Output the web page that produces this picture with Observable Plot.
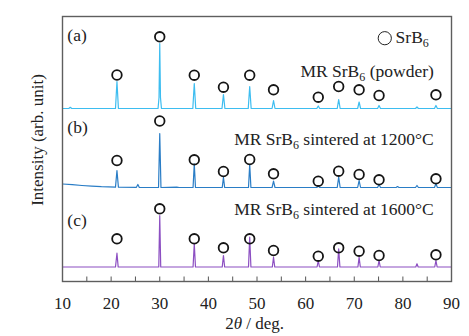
<!DOCTYPE html>
<html>
<head>
<meta charset="utf-8">
<script src="https://cdn.jsdelivr.net/npm/d3@7"></script>
<script src="https://cdn.jsdelivr.net/npm/@observablehq/plot@0.6"></script>
<style>
  html, body { margin: 0; padding: 0; background: #fff; }
  #wrap { position: relative; width: 469px; height: 336px; overflow: hidden; }
  #outer { position: absolute; left: 12px; top: 10px; width: 480px; height: 340px;
           border-top: 1px solid #d6d6d6; border-left: 1px solid #d6d6d6; }
  #chart { position: absolute; left: 0; top: 0; }
</style>
</head>
<body>
<div id="wrap"><div id="outer"></div><div id="chart"></div></div>
<script>
// ---- data (2θ in degrees, intensity in arbitrary units, relative to each pattern's baseline)
const patternA = [
  [10,0],[11.3,0],[11.6,12],[11.9,0],
  [20.9,0],[21.2,270],[21.5,0],
  [29.65,0],[29.85,110],[30.0,650],[30.15,110],[30.35,0],
  [36.8,0],[37.1,250],[37.4,0],
  [42.8,0],[43.1,140],[43.4,0],
  [48.2,0],[48.5,220],[48.8,0],
  [53.1,0],[53.4,80],[53.7,0],
  [62.3,0],[62.6,25],[62.9,0],
  [66.5,0],[66.8,90],[67.1,0],
  [70.7,0],[71.0,65],[71.3,0],
  [74.8,0],[75.1,30],[75.4,0],
  [82.6,0],[82.9,15],[83.2,0],
  [86.5,0],[86.8,30],[87.1,0],
  [90,0]
];
const patternB = [
  [10,35],[12,28],[14,20],[16,14],[18,8],[20.9,4],[21.2,170],[21.5,3],
  [25.2,2],[25.5,30],[25.8,1],
  [29.75,0],[30.0,540],[30.25,0],
  [33.5,3],[34,0],
  [36.85,0],[37.1,237],[37.35,0],
  [42.85,0],[43.1,103],[43.35,0],
  [48.25,0],[48.5,230],[48.75,0],
  [53.1,0],[53.4,63],[53.7,0],
  [62.3,0],[62.6,15],[62.9,0],
  [66.5,0],[66.8,103],[67.1,0],
  [70.7,0],[71.0,70],[71.3,0],
  [74.8,0],[75.1,30],[75.4,0],
  [78.6,0],[78.9,10],[79.2,0],
  [82.6,0],[82.9,20],[83.2,0],
  [86.5,0],[86.8,37],[87.1,0],
  [90,0]
];
const patternC = [
  [10,0],[20.9,0],[21.2,138],[21.45,0],
  [29.8,0],[30.0,515],[30.2,0],
  [36.85,0],[37.1,232],[37.35,0],
  [42.85,0],[43.1,115],[43.35,0],
  [48.25,0],[48.5,298],[48.75,0],
  [53.15,0],[53.4,98],[53.65,0],
  [62.35,0],[62.6,65],[62.85,0],
  [66.55,0],[66.8,182],[67.05,0],
  [70.75,0],[71.0,98],[71.25,0],
  [74.85,0],[75.1,65],[75.35,0],
  [82.65,0],[82.9,32],[83.15,0],
  [86.55,0],[86.8,65],[87.05,0],
  [90,0]
];
const offsets = [1730, 940, 145];          // vertical stacking of (a), (b), (c)
const markedPeaks = [21.2, 30.0, 37.1, 43.1, 48.5, 53.4, 62.6, 66.8, 71.0, 75.1, 86.8];
const markerA = [335, 717, 333, 213, 333, 187, 113, 220, 187, 130, 137];
const markerB = [270, 665, 277, 160, 280, 137, 63, 163, 130, 77, 87];
const markerC = [282, 582, 282, 192, 282, 165, 108, 192, 158, 115, 122];
const xTicks = [10, 20, 30, 40, 50, 60, 70, 80, 90];
const minorTicks = [15, 20, 25, 30, 35, 40, 45, 50, 55, 60, 65, 70, 75, 80, 85];
const panelLabels = ["(a)", "(b)", "(c)"];
const sampleLabels = ["MR SrB_6 (powder)", "MR SrB_6 sintered at 1200°C", "MR SrB_6 sintered at 1600°C"];
const legendLabel = "SrB_6";
const xLabel = "2θ / deg.";
const yLabel = "Intensity (arb. unit)";
const colors = ["#3dbdf0", "#2a7dc6", "#8c4fc2"];

// ---- build tables
const patterns = [patternA, patternB, patternC];
const lineRows = patterns.map((p, k) => p.map(([t, i]) => ({t, I: i + offsets[k]})));
const markers = [markerA, markerB, markerC];
const markerRows = markers.flatMap((m, k) => m.map((h, j) => ({t: markedPeaks[j], I: h + offsets[k]})));

const serif = "'Liberation Serif', 'Times New Roman', serif";

const plot = Plot.plot({
  width: 469,
  height: 336,
  marginLeft: 62,
  marginRight: 18,
  marginTop: 16,
  marginBottom: 55,
  style: {fontFamily: serif, background: "white", color: "#222"},
  x: {domain: [10, 90]},
  y: {domain: [0, 2650], axis: null},
  marks: [
    Plot.ruleX(minorTicks, {y1: 0, y2: 45, stroke: "#555", strokeWidth: 1}),
    ...lineRows.map((rows, k) => Plot.line(rows, {x: "t", y: "I", stroke: colors[k], strokeWidth: 1.2})),
    Plot.dot(markerRows, {x: "t", y: "I", r: 4.8, stroke: "#151515", strokeWidth: 1.8, fill: "none"}),
    Plot.frame({stroke: "#5e5e5e", strokeWidth: 1.4}),
    Plot.axisX({ticks: xTicks, tickSize: 0, tickPadding: 15, fontSize: 17, label: null, tickFormat: d => String(d)}),
    Plot.text([panelLabels[0]], {x: 11.0, y: 2460, textAnchor: "start", fontSize: 17.5}),
    Plot.text([panelLabels[1]], {x: 11.0, y: 1540, textAnchor: "start", fontSize: 17.5}),
    Plot.text([panelLabels[2]], {x: 11.0, y: 610, textAnchor: "start", fontSize: 17.5}),
    Plot.dot([0], {x: 76.28, y: 2433, r: 6.6, stroke: "#222", strokeWidth: 1, fill: "none"}),
    Plot.text([legendLabel], {x: 78.5, y: 2440, textAnchor: "start", fontSize: 17.5}),
    Plot.text([sampleLabels[0]], {x: 86.36, y: 2100, textAnchor: "end", fontSize: 17.5}),
    Plot.text([sampleLabels[1]], {x: 86.36, y: 1417, textAnchor: "end", fontSize: 17.5}),
    Plot.text([sampleLabels[2]], {x: 86.36, y: 717, textAnchor: "end", fontSize: 17.5}),
    Plot.text([xLabel], {x: 49.5, y: -420, textAnchor: "middle", fontSize: 17}),
    Plot.text([yLabel], {x: 4.8, y: 1415, textAnchor: "middle", rotate: -90, fontSize: 17})
  ]
});

// rich text: subscripts "_6" and italic θ
const NS = "http://www.w3.org/2000/svg";
plot.querySelectorAll("text").forEach(t => {
  const s = t.textContent;
  if (t.querySelector("tspan") || !/(_\d|θ)/.test(s)) return;
  t.textContent = "";
  const re = /(_\d)|(θ)/g;
  let last = 0, m, needReset = false;
  const add = (str, attrs = {}) => {
    const ts = document.createElementNS(NS, "tspan");
    for (const [k, v] of Object.entries(attrs)) ts.setAttribute(k, v);
    ts.textContent = str;
    t.appendChild(ts);
  };
  while ((m = re.exec(s))) {
    if (m.index > last) { add(s.slice(last, m.index), needReset ? {dy: "-4"} : {}); needReset = false; }
    if (m[1]) { add(m[1].slice(1), {dy: "4", "font-size": "12"}); needReset = true; }
    else { add("θ", Object.assign({"font-style": "italic"}, needReset ? {dy: "-4"} : {})); needReset = false; }
    last = re.lastIndex;
  }
  if (last < s.length) add(s.slice(last), needReset ? {dy: "-4"} : {});
});

document.getElementById("chart").appendChild(plot);
</script>
</body>
</html>
